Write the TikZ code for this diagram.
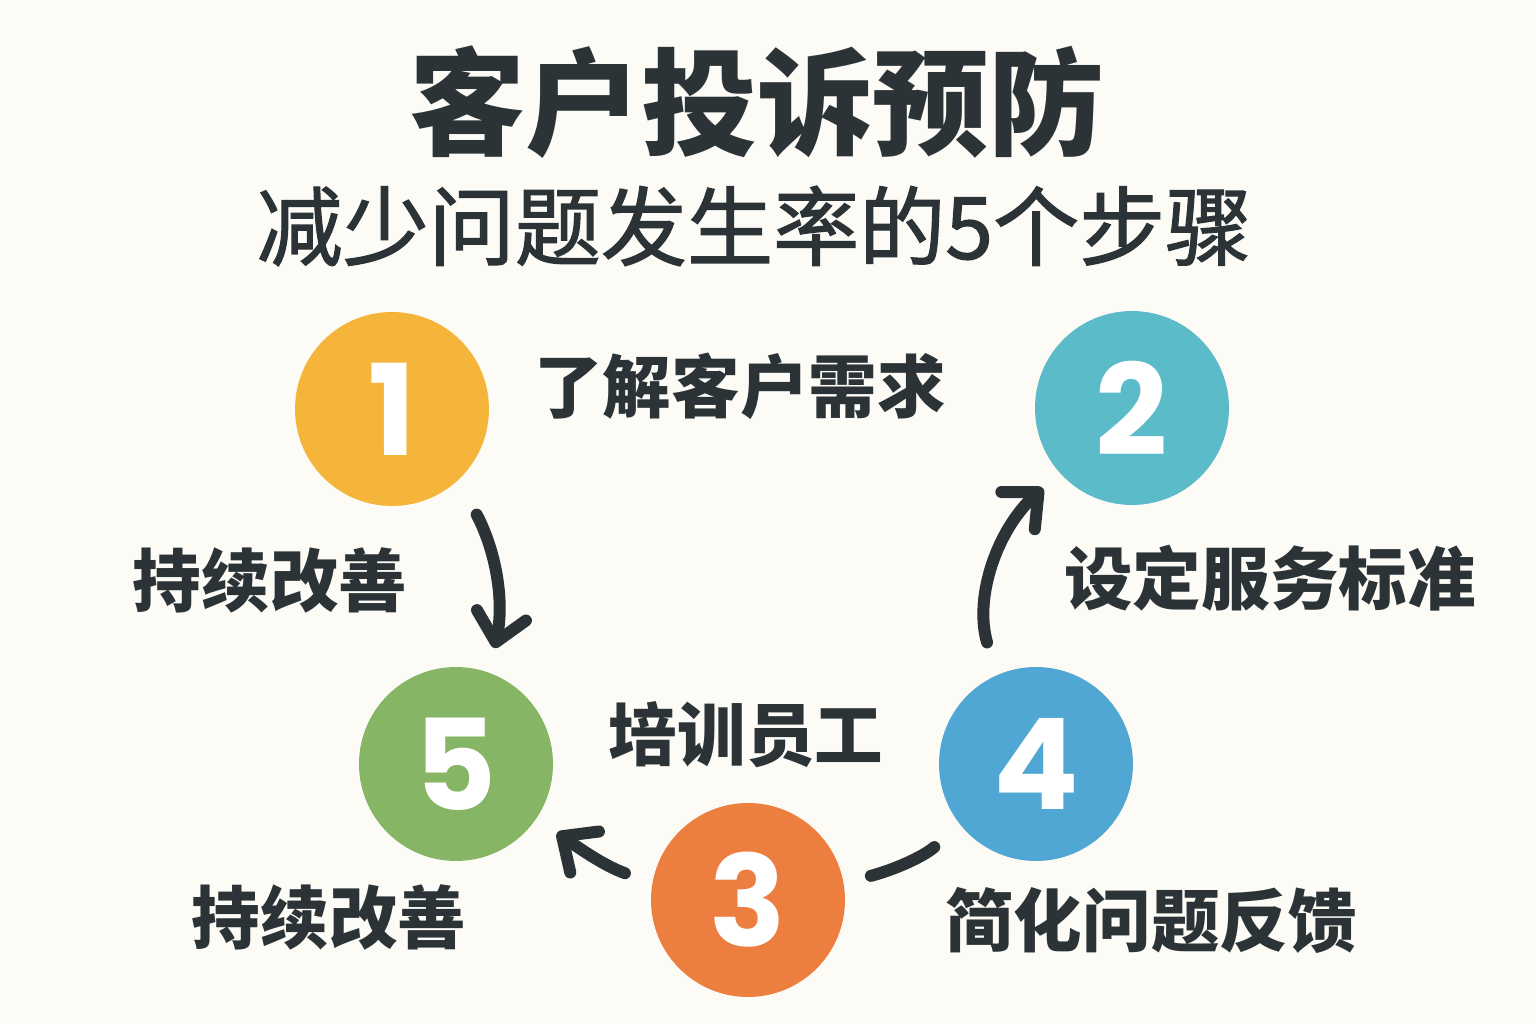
\documentclass[tikz,border=0pt]{standalone}
\usepackage{fontspec}
\usepackage{xcolor}
\usepackage{tikz}
\usetikzlibrary{arrows.meta}
\newfontfamily\cjk{Noto Sans CJK SC}
\newfontfamily\cjkmid[FakeBold=1.4]{Noto Sans CJK SC}
\newfontfamily\numfont{Poppins}
\definecolor{pagebg}{HTML}{FCFBF6}
\definecolor{ink}{HTML}{2B3337}
\definecolor{stepa}{HTML}{F4B53A}
\definecolor{stepb}{HTML}{5BBBC9}
\definecolor{stepc}{HTML}{EC7F3F}
\definecolor{stepd}{HTML}{50A7D3}
\definecolor{stepe}{HTML}{86B565}

\begin{document}
\begin{tikzpicture}[
        x=0.02cm, y=-0.02cm,
        stepdot/.style={circle, minimum size=3.88cm, inner sep=0pt, text=white, font=\numfont\bfseries\fontsize{72}{72}\selectfont},
        lbl/.style={text=ink, inner sep=0pt, font=\cjk\bfseries\fontsize{39}{39}\selectfont},
        arr/.style={-{Straight Barb[length=0.55cm, width=1.0cm, round]}, line width=0.24cm, draw=ink, line cap=round, line join=round},
        link/.style={line width=0.24cm, draw=ink, line cap=round}
    ]
    \fill[pagebg] (0,0) rectangle (1536,1024);
    \useasboundingbox (0,0) rectangle (1536,1024);

    \node[lbl, font=\cjk\bfseries\fontsize{66}{66}\selectfont] (title) at (757,102) {客户投诉预防};
    \node[lbl, font=\cjkmid\fontsize{49}{49}\selectfont] (subtitle) at (754,226) {减少问题发生率的5个步骤};

    \node[stepdot, fill=stepa] (s1) at (392,409) {1};
    \node[stepdot, fill=stepb] (s2) at (1132,408) {2};
    \node[stepdot, fill=stepc] (s3) at (748,900) {3};
    \node[stepdot, fill=stepd] (s4) at (1036,764) {4};
    \node[stepdot, fill=stepe] (s5) at (456,764) {5};

    \node[lbl] (l1) at (740,386) {了解客户需求};
    \node[lbl] (l2) at (1270,578) {设定服务标准};
    \node[lbl] (l5a) at (270,580) {持续改善};
    \node[lbl] (l3) at (746,735) {培训员工};
    \node[lbl] (l5b) at (329,917) {持续改善};
    \node[lbl] (l4) at (1151,920) {简化问题反馈};

    \draw[arr, shorten <=0.78cm, shorten >=0.5cm] (s1.-47) to[out=-62, in=78] (s5.70);
    \draw[arr, shorten <=0.68cm, shorten >=0.45cm] (s4.114) to[out=106, in=222] (s2.222);
    \draw[arr, shorten <=0.58cm, shorten >=0.5cm] (s3.170) to[out=160, in=-35] (s5.-34);
    \draw[link, shorten <=0.56cm, shorten >=0.68cm] (s3.10) to[out=15, in=220] (s4.219);

\end{tikzpicture}
\end{document}
